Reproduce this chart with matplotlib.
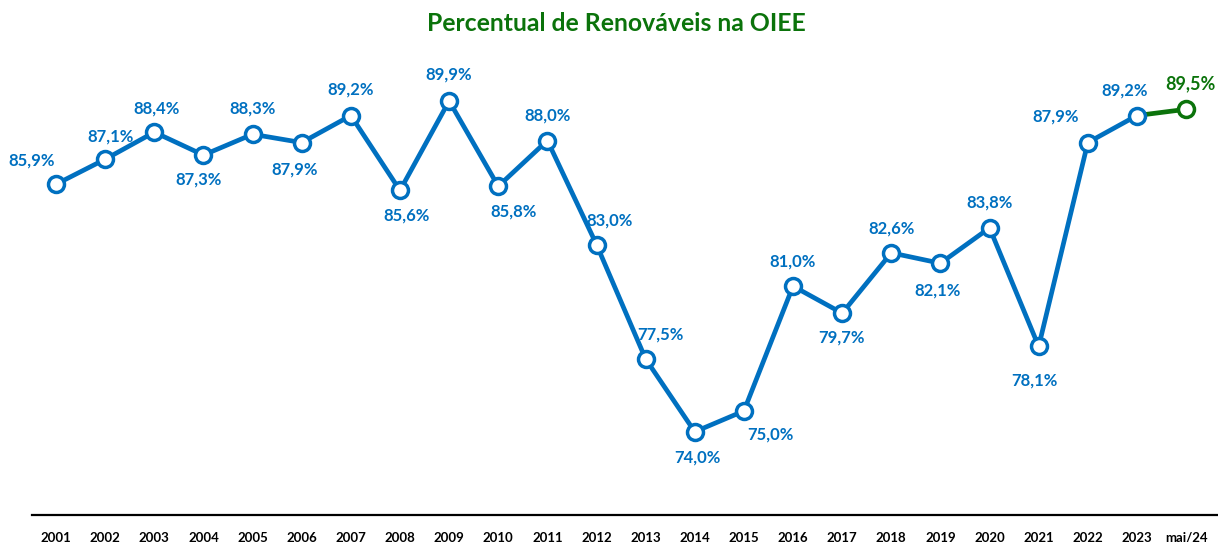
import matplotlib
matplotlib.use("Agg")
import matplotlib.pyplot as plt

plt.rcParams['font.family'] = ['Lato', 'DejaVu Sans']

BLUE = '#0070C0'
GREEN = '#0B730B'

periods = ['2001', '2002', '2003', '2004', '2005', '2006', '2007', '2008',
           '2009', '2010', '2011', '2012', '2013', '2014', '2015', '2016',
           '2017', '2018', '2019', '2020', '2021', '2022', '2023', 'mai/24']
share = [85.9, 87.1, 88.4, 87.3, 88.3, 87.9, 89.2, 85.6,
         89.9, 85.8, 88.0, 83.0, 77.5, 74.0, 75.0, 81.0,
         79.7, 82.6, 82.1, 83.8, 78.1, 87.9, 89.2, 89.5]
# label offsets in pixels (dx, dy) from each point
offsets = [(-24, 24), (5, 23), (2, 24), (-5, -24), (0, 26), (-7, -27),
           (0, 26), (7, -25), (0, 26), (15, -25), (0, 25), (13, 24),
           (15, 24), (3, -26), (27, -24), (0, 25), (-1, -24), (0, 24),
           (-3, -27), (0, 25), (-4, -34), (-32, 26), (-12, 25), (4, 26)]

fig = plt.figure(figsize=(12.18, 5.42), dpi=100)
ax = fig.add_axes([32 / 1218, 27 / 542, 1186 / 1218, 465 / 542])

x = list(range(len(periods)))
n = len(periods) - 1

# green segment for the partial year
ax.plot(x[n - 1:], share[n - 1:], color=GREEN, linewidth=3.4, zorder=2)
ax.plot(x[:n], share[:n], color=BLUE, linewidth=3.4, zorder=3,
        marker='o', markersize=11.5, markerfacecolor='white',
        markeredgecolor=BLUE, markeredgewidth=2.5)
ax.plot(x[n:], share[n:], linestyle='none', zorder=4,
        marker='o', markersize=11.5, markerfacecolor='white',
        markeredgecolor=GREEN, markeredgewidth=2.5)

for i, (v, (dx, dy)) in enumerate(zip(share, offsets)):
    last = i == n
    ax.annotate(f"{v:.1f}%".replace('.', ','), (x[i], v),
                xytext=(dx, dy), textcoords='offset pixels',
                ha='center', va='center', color=GREEN if last else BLUE,
                fontsize=13 if last else 12, fontweight='bold')

ax.set_xlim(-0.49, 23.65)
ax.set_ylim(70, 92.35)
ax.set_xticks(x)
ax.set_xticklabels(periods, fontsize=9.5, fontweight='bold')
ax.tick_params(axis='x', length=0, pad=12)
ax.set_yticks([])
for s in ['top', 'right', 'left']:
    ax.spines[s].set_visible(False)
ax.spines['bottom'].set_linewidth(1.6)
ax.spines['bottom'].set_color('black')

fig.text(0.506, 0.957, 'Percentual de Renováveis na OIEE', ha='center',
         va='center', color=GREEN, fontsize=17.8, fontweight='bold')

fig.savefig('out.png', dpi=100)
